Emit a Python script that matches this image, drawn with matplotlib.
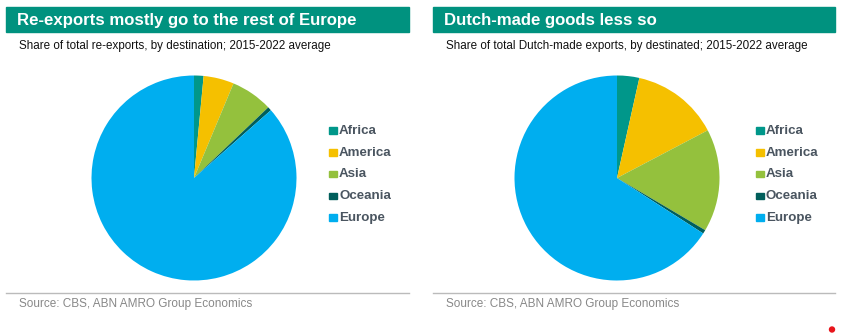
import matplotlib.pyplot as plt
from matplotlib.patches import Rectangle, Ellipse

plt.rcParams['font.family'] = ['Liberation Sans', 'DejaVu Sans']

regions = ['Africa', 'America', 'Asia', 'Oceania', 'Europe']
colors = ['#00978A', '#F5C000', '#94C13D', '#005E5B', '#00AEEF']

# share of exports by destination, 2015-2022 average (%)
reexport_share = [1.5, 4.8, 6.6, 0.6, 86.5]
dutch_made_share = [3.5, 13.8, 16.2, 0.6, 65.9]

titles = ['Re-exports mostly go to the rest of Europe',
          'Dutch-made goods less so']
subtitles = ['Share of total re-exports, by destination; 2015-2022 average',
             'Share of total Dutch-made exports, by destinated; 2015-2022 average']
source = 'Source: CBS, ABN AMRO Group Economics'

W, H = 843, 334
fig = plt.figure(figsize=(W / 100, H / 100), dpi=100)


def fx(px):
    return px / W


def fy(py):
    return 1 - py / H


panels = [
    dict(x0=6, x1=409, cx=194, leg_x=329, data=reexport_share),
    dict(x0=433, x1=835, cx=617, leg_x=756, data=dutch_made_share),
]
cy, r = 178, 102.5

for i, p in enumerate(panels):
    # teal title banner
    fig.patches.append(Rectangle((fx(p['x0']), fy(32)), fx(p['x1'] - p['x0']), 25 / H,
                                 transform=fig.transFigure, color='#00927F', zorder=0))
    fig.text(fx(p['x0'] + 11), fy(20), titles[i], color='white', fontsize=12.1,
             fontweight='bold', va='center', ha='left')
    fig.text(fx(p['x0'] + 13), fy(45.5), subtitles[i], color='#111111', fontsize=8.4,
             va='center', ha='left')

    # pie
    ax = fig.add_axes([fx(p['cx'] - r), fy(cy + r), fx(2 * r), 2 * r / H])
    ax.pie(p['data'], colors=colors, startangle=90, counterclock=False,
           wedgeprops=dict(linewidth=0))
    ax.set_xlim(-1, 1)
    ax.set_ylim(-1, 1)
    ax.set_aspect('equal')
    ax.axis('off')

    # legend
    for j, name in enumerate(regions):
        yy = 131 + j * 21.7
        fig.patches.append(Rectangle((fx(p['leg_x']), fy(yy + 3)), fx(8), 6.5 / H,
                                     transform=fig.transFigure, color=colors[j]))
        fig.text(fx(p['leg_x'] + 10), fy(yy), name, color='#4A5560', fontsize=9.6,
                 fontweight='bold', va='center', ha='left')

    # footer rule and source
    fig.add_artist(plt.Line2D([fx(p['x0']), fx(p['x1'])], [fy(292.5), fy(292.5)],
                              transform=fig.transFigure, color='#BBBBBB', linewidth=1))
    fig.text(fx(p['x0'] + 13), fy(303.5), source, color='#888888', fontsize=8.5,
             va='center', ha='left')

# small red marker in the corner
fig.patches.append(Ellipse((fx(832), fy(329.5)), 5 / W, 5 / H, transform=fig.transFigure,
                           color='#E8141B'))

fig.savefig('out.png', dpi=100)
